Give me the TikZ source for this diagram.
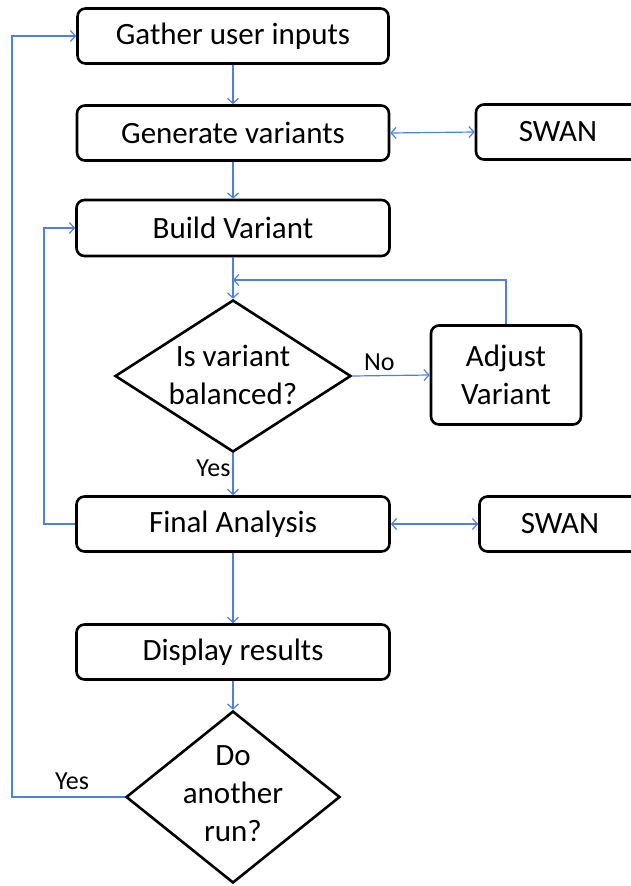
\documentclass[tikz,border=0pt]{standalone}
\usepackage{fontspec}
\setmainfont{Carlito}
\usetikzlibrary{arrows.meta,shapes.geometric}
\definecolor{lnblue}{RGB}{78,128,228}
\tikzset{
  box/.style={draw=black, line width=2.6pt, rounded corners=8pt, minimum height=55pt, inner sep=0pt,
     font=\fontsize{31}{38}\selectfont},
  dia/.style={draw=black, line width=2.6pt, shape=diamond, inner sep=0pt},
  dtext/.style={align=center, font=\fontsize{31}{38}\selectfont},
  conn/.style={draw=lnblue, line width=1.2pt, -{Straight Barb[length=5pt,width=11pt]}},
  biconn/.style={draw=lnblue, line width=1.2pt, {Straight Barb[length=5pt,width=11pt]}-{Straight Barb[length=5pt,width=11pt]}},
  lbl/.style={font=\fontsize{26}{30}\selectfont, inner sep=0pt}
}
\begin{document}
\begin{tikzpicture}[x=1pt,y=-1pt]
\useasboundingbox (0,0) rectangle (631,886);
\clip (0,0) rectangle (631,886);
\node[box, minimum width=311pt] (gather) at (233,36) {Gather user inputs};
\node[box, minimum width=312pt] (gen) at (233,133) {Generate variants};
\node[box, minimum width=164pt] (swan1) at (558,132) {SWAN};
\node[box, minimum width=313pt, minimum height=56pt] (build) at (233,228) {Build Variant};
\node[dia, minimum width=236pt, minimum height=152pt] (d1) at (233,376) {};
\node[dtext] (d1t) at (233,375) {Is variant\\balanced?};
\node[box, minimum width=150pt, minimum height=99pt, align=center] (adj) at (506,375) {Adjust\\Variant};
\node[box, minimum width=313pt] (final) at (233,524) {Final Analysis};
\node[box, minimum width=161pt] (swan2) at (560,524) {SWAN};
\node[box, minimum width=313pt] (disp) at (233,652) {Display results};
\node[dia, minimum width=214pt, minimum height=172pt] (d2) at (233,797) {};
\node[dtext] (d2t) at (233,794) {Do\\another\\run?};

\coordinate (merge) at (233,280);
\coordinate (lp1) at (44,524);
\coordinate (lp2) at (12,797);

\draw[conn] (gather.south) -- (gen.north);
\draw[biconn] (gen.east) -- (swan1.west);
\draw[conn] (gen.south) -- (build.north);
\draw[conn] (build.south) -- (d1.north);
\draw[conn] (adj.north) |- (merge);
\draw[conn] (d1.east) -- node[lbl, above=4pt, pos=0.35] (no) {No} (adj.west);
\draw[conn] (d1.south) -- node[lbl, left=2pt, pos=0.35] (yes1) {Yes} (final.north);
\draw[biconn] (final.east) -- (swan2.west);
\draw[conn] (final.west) -- (lp1) |- (build.west);
\draw[conn] (final.south) -- (disp.north);
\draw[conn] (disp.south) -- (d2.north);
\draw[conn] (d2.west) -- (lp2) |- (gather.west);
\node[lbl] (yes2) at (72,781) {Yes};
\end{tikzpicture}
\end{document}
